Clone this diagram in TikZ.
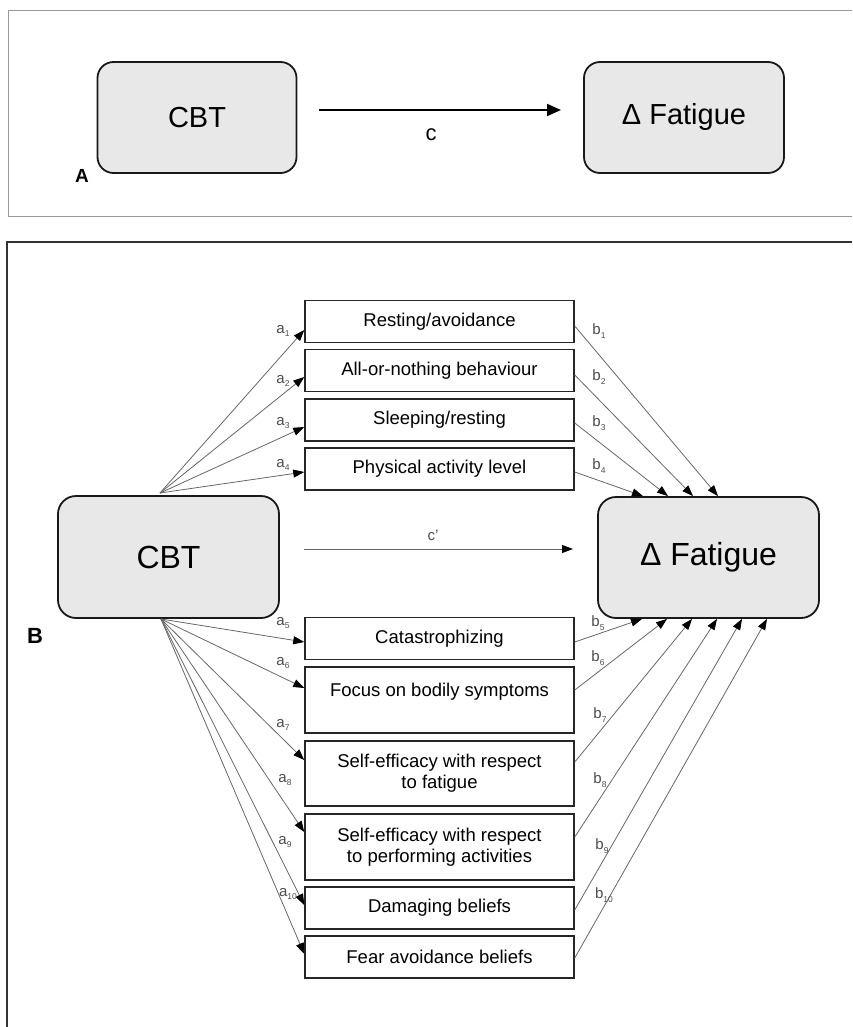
\documentclass[tikz,border=0pt]{standalone}
\usepackage{fontspec}
\setmainfont{Liberation Sans}
\usetikzlibrary{arrows.meta,calc}
\newcommand{\sbs}[1]{\raisebox{-0.45ex}{\fontsize{8.5}{8.5}\selectfont#1}}
\begin{document}
\begin{tikzpicture}[x=1pt,y=-1pt,
  bigbox/.style={draw=black!90,line width=1.8pt,fill=black!9,rounded corners=16pt,inner sep=0pt},
  medbox/.style={draw=black!85,line width=1.5pt,minimum width=269pt,minimum height=42pt,inner sep=0pt,align=center,font=\fontsize{18.5}{21}\selectfont},
  conn/.style={draw=black!60,line width=0.8pt,-{Triangle[length=11pt,width=8pt,color=black]}},
  lab/.style={text=black!70,font=\fontsize{15}{15}\selectfont,inner sep=0pt},
  panellab/.style={font=\bfseries,inner sep=0pt},
]
\useasboundingbox (0,0) rectangle (852,1027);
% frames
\draw[black!40,line width=1pt] (852,11) -- (8,11) -- (8,216) -- (852,216);
\draw[black!80,line width=1.5pt] (852,242) -- (7,242) -- (7,1027);

% Panel A
\node[bigbox,minimum width=199pt,minimum height=111pt,font=\fontsize{29}{32}\selectfont] (Acbt) at (197,117.5) {CBT};
\node[bigbox,minimum width=200pt,minimum height=111pt,font=\fontsize{29}{32}\selectfont] (Afat) at (684,117.5) {Δ Fatigue};
\coordinate (As) at (319,110);
\coordinate (Ae) at (561,110);
\draw[black,line width=2pt,-{Triangle[length=14pt,width=12pt]}] (As) -- (Ae);
\node[font=\fontsize{22}{22}\selectfont,inner sep=0pt] (Ac) at (431,135) {c};
\node[panellab,font=\fontsize{19}{19}\selectfont\bfseries] (Alab) at (82,176) {A};

% Panel B
\node[bigbox,rounded corners=18pt,minimum width=221pt,minimum height=122pt,font=\fontsize{32}{36}\selectfont] (Bcbt) at (168.5,557) {CBT};
\node[bigbox,rounded corners=18pt,minimum width=221pt,minimum height=121pt,font=\fontsize{32}{36}\selectfont] (Bfat) at (708.5,557.5) {Δ Fatigue};
\node[panellab,font=\fontsize{22}{22}\selectfont\bfseries] (Blab) at (35,636) {B};

\node[medbox] (m1) at (439.5,321.5) {Resting/avoidance};
\node[medbox] (m2) at (439.5,370.5) {All-or-nothing behaviour};
\node[medbox] (m3) at (439.5,420) {Sleeping/resting};
\node[medbox] (m4) at (439.5,469) {Physical activity level};
\node[medbox] (m5) at (439.5,638.5) {Catastrophizing};
\node[medbox,minimum height=66pt] (m6) at (439.5,700) {Focus on bodily symptoms\\\mbox{}};
\node[medbox,minimum height=65pt] (m7) at (439.5,773.5) {Self-efficacy with respect\\to fatigue};
\node[medbox,minimum height=66pt] (m8) at (439.5,847) {Self-efficacy with respect\\to performing activities};
\node[medbox] (m9) at (439.5,908) {Damaging beliefs};
\node[medbox] (m10) at (439.5,957) {Fear avoidance beliefs};

% direct effect c'
\coordinate (Cs) at (304,549);
\coordinate (Ce) at (573,549);
\draw[conn] (Cs) -- (Ce);
\node[lab] (lc) at (433,535) {c\textquoteright};

% a paths
\coordinate (cbtT) at (160,493);
\coordinate (cbtB) at (161,619);
\foreach \i/\dy in {1/8.5,2/6.5,3/7,4/3}
  \draw[conn] (cbtT) -- ($(m\i.west)+(0,\dy)$);
\foreach \i/\dy in {5/3.5,6/-12,7/-13.5,8/-15,9/-3,10/-3}
  \draw[conn] (cbtB) -- ($(m\i.west)+(0,\dy)$);

% b paths
\foreach \i/\dy/\dx in {1/4.5/9.5,2/4.5/-15.5,3/3/-40.5,4/3/-65.5}
  \draw[conn] ($(m\i.east)+(0,\dy)$) -- ($(Bfat.north)+(\dx,0)$);
\foreach \i/\dy/\dx in {5/3.5/-66.5,6/-10/-41.5,7/-11.5/-16.5,8/-10/8.5,9/2/33.5,10/1/58.5}
  \draw[conn] ($(m\i.east)+(0,\dy)$) -- ($(Bfat.south)+(\dx,0)$);

% labels a
\node[lab] (la1) at (283,331) {a\sbs{1}};
\node[lab] (la2) at (283,381) {a\sbs{2}};
\node[lab] (la3) at (283,423) {a\sbs{3}};
\node[lab] (la4) at (283,465) {a\sbs{4}};
\node[lab] (la5) at (283,623) {a\sbs{5}};
\node[lab] (la6) at (283,663) {a\sbs{6}};
\node[lab] (la7) at (283,725) {a\sbs{7}};
\node[lab] (la8) at (285,780) {a\sbs{8}};
\node[lab] (la9) at (285,842) {a\sbs{9}};
\node[lab] (la10) at (288,894) {a\sbs{10}};
% labels b
\node[lab] (lb1) at (599,331) {b\sbs{1}};
\node[lab] (lb2) at (599,377) {b\sbs{2}};
\node[lab] (lb3) at (599,423) {b\sbs{3}};
\node[lab] (lb4) at (599,466) {b\sbs{4}};
\node[lab] (lb5) at (598,623) {b\sbs{5}};
\node[lab] (lb6) at (598,658) {b\sbs{6}};
\node[lab] (lb7) at (600,715) {b\sbs{7}};
\node[lab] (lb8) at (600,780) {b\sbs{8}};
\node[lab] (lb9) at (602,846) {b\sbs{9}};
\node[lab] (lb10) at (604,895) {b\sbs{10}};
\end{tikzpicture}
\end{document}
